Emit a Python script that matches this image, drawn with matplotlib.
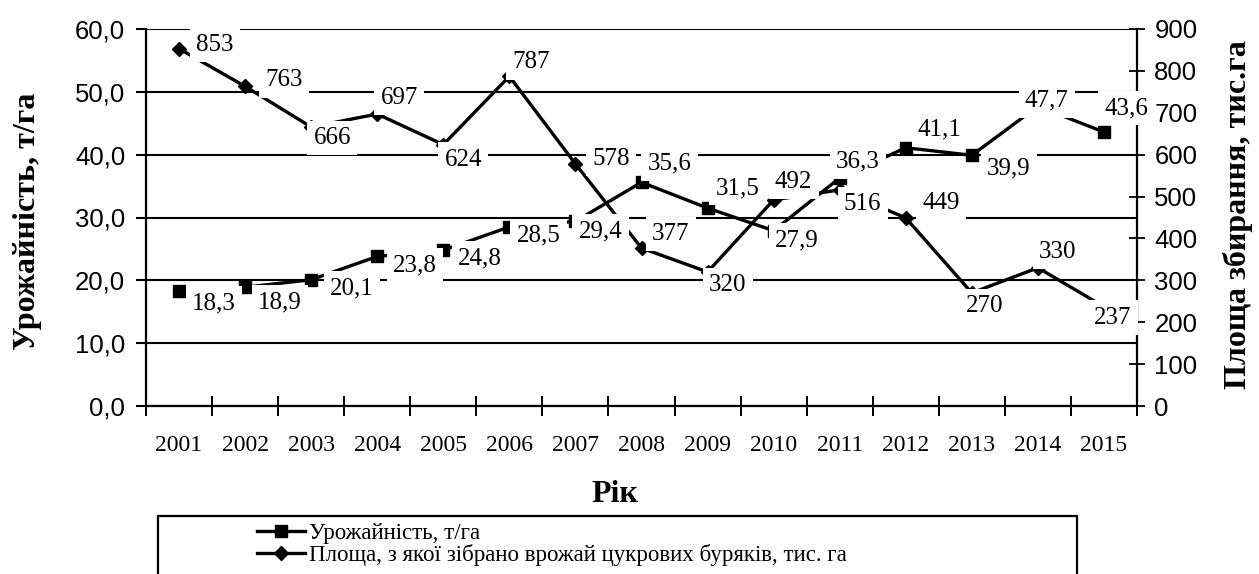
import matplotlib
matplotlib.use("Agg")
import matplotlib.pyplot as plt
from matplotlib.lines import Line2D
from matplotlib.patches import Rectangle
from matplotlib.ticker import FuncFormatter, FixedLocator

years = ["2001", "2002", "2003", "2004", "2005", "2006", "2007", "2008",
         "2009", "2010", "2011", "2012", "2013", "2014", "2015"]
yield_t_ha = [18.3, 18.9, 20.1, 23.8, 24.8, 28.5, 29.4, 35.6, 31.5, 27.9,
              36.3, 41.1, 39.9, 47.7, 43.6]
area_th_ha = [853, 763, 666, 697, 624, 787, 578, 377, 320, 492, 516, 449,
              270, 330, 237]

yield_name = "Урожайність, т/га"
area_name = "Площа, з якої зібрано врожай цукрових буряків, тис. га"
left_title = "Урожайність, т/га"
right_title = "Площа збирання, тис.га"
x_title = "Рік"

# label offsets (pixels) relative to each point -- layout only
yield_off = [(35, -12), (35, -15), (41, -9), (38, -9), (37, -8), (29, -9),
             (25, -10), (28, 19), (30, 20), (23, -10), (18, 16), (34, 18),
             (37, -13), (9, 6), (22, 24)]
area_off = [(36, 4), (39, 6), (21, -11), (22, 16), (20, -15), (22, 14),
            (36, 5), (29, 14), (20, -13), (20, 18), (23, -14), (35, 15),
            (13, -13), (20, 16), (9, -11)]

W, H = 1259, 574
fig = plt.figure(figsize=(W / 100, H / 100), dpi=100)
L, R, T, B = 146, 1137, 29, 406
ax = fig.add_axes([L / W, 1 - B / H, (R - L) / W, (B - T) / H])
ax2 = ax.twinx()

serif = "Liberation Serif"
sans = "Liberation Sans"

x = list(range(len(years)))
ax.set_xlim(-0.5, len(years) - 0.5)
ax.set_ylim(0, 60)
ax2.set_ylim(0, 900)

ax.plot(x, yield_t_ha, color="black", lw=2.4, marker="s", ms=8,
        zorder=3, clip_on=False)
ax2.plot(x, area_th_ha, color="black", lw=2.4, marker="D", ms=7.5,
         zorder=3, clip_on=False)

# gridlines
ax.set_yticks(range(0, 61, 10))
ax.yaxis.set_major_formatter(FuncFormatter(lambda v, p: f"{v:.1f}".replace(".", ",")))
ax.grid(axis="y", color="black", lw=1.5, zorder=0)
ax.set_axisbelow(True)
ax2.set_yticks(range(0, 901, 100))

ax.spines["top"].set_visible(False)
ax2.spines["top"].set_visible(False)
ax.spines["right"].set_visible(False)
ax2.spines["left"].set_visible(False)
ax2.spines["bottom"].set_visible(False)
for sp in [ax.spines["left"], ax.spines["bottom"], ax2.spines["right"]]:
    sp.set_linewidth(1.6)

ax.tick_params(axis="y", direction="out", length=7, width=1.5, pad=8,
               labelsize=18.5)
ax2.tick_params(axis="y", direction="inout", length=11, width=1.3, pad=7,
                labelsize=18.5)
for lab in ax.get_yticklabels() + ax2.get_yticklabels():
    lab.set_fontfamily(sans)

ax.set_xticks(x)
ax.set_xticklabels(years, fontfamily=serif, fontsize=17)
ax.xaxis.set_minor_locator(FixedLocator([i - 0.5 for i in range(len(years) + 1)]))
ax.tick_params(axis="x", which="major", length=0, pad=21)
ax.tick_params(axis="x", which="minor", direction="inout", length=14, width=1.4)

bbox = dict(boxstyle="square,pad=0.25", fc="white", ec="none")
for i, v in enumerate(yield_t_ha):
    ax2.annotate(f"{v:.1f}".replace(".", ","), xy=(i, v), xycoords=ax.transData,
                 xytext=yield_off[i], textcoords="offset pixels",
                 ha="center", va="center", fontsize=18, fontfamily=serif,
                 bbox=bbox, zorder=6, annotation_clip=False)
for i, v in enumerate(area_th_ha):
    ax2.annotate(f"{v}", xy=(i, v), xycoords=ax2.transData,
                 xytext=area_off[i], textcoords="offset pixels",
                 ha="center", va="center", fontsize=18, fontfamily=serif,
                 bbox=bbox, zorder=6, annotation_clip=False)

fig.text(28 / W, 1 - 221 / H, left_title, rotation=90, ha="center", va="center",
         fontsize=23, fontweight="bold", fontfamily=serif)
fig.text(1238 / W, 1 - 215 / H, right_title, rotation=90, ha="center", va="center",
         fontsize=23, fontweight="bold", fontfamily=serif)
fig.text(615 / W, 1 - 495 / H, x_title, ha="center", va="center",
         fontsize=23, fontweight="bold", fontfamily=serif)

# legend box
fig.patches.append(Rectangle((158 / W, -0.05), (1077 - 158) / W, (0.05 + 1 - 516 / H),
                             transform=fig.transFigure, fill=False, ec="black",
                             lw=1.6, clip_on=False))
handles = [Line2D([], [], color="black", lw=2.4, marker="s", ms=8),
           Line2D([], [], color="black", lw=2.4, marker="D", ms=7.5)]
leg = fig.legend(handles, [yield_name, area_name], loc="upper left",
                 bbox_to_anchor=(257 / W, 1 - 523 / H), frameon=False,
                 prop={"family": serif, "size": 16.5}, handlelength=2.1,
                 handletextpad=0.15, labelspacing=0.0, borderpad=0,
                 borderaxespad=0)

fig.savefig("out.png", dpi=100)
